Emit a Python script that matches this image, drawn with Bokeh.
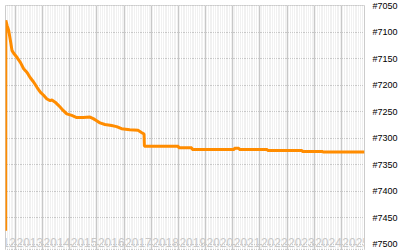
import pandas as pd
from bokeh.plotting import figure
from bokeh.models import Range1d, FixedTicker, Grid, ColumnDataSource
from bokeh.embed import file_html
from bokeh.resources import INLINE
from bokeh.core.properties import value

# ---- data ----
dates = ["2012-08-22", "2012-08-24", "2012-09-11", "2012-10-02", "2012-10-25", "2012-11-16",
         "2012-12-08", "2013-01-23", "2013-03-08", "2013-04-21", "2013-06-06", "2013-07-19",
         "2013-09-02", "2013-10-17", "2013-12-01", "2014-01-14", "2014-02-28", "2014-04-13",
         "2014-05-06", "2014-06-19", "2014-08-02", "2014-09-17", "2014-11-22", "2015-01-28",
         "2015-04-05", "2015-07-02", "2015-09-30", "2015-11-13", "2015-12-29", "2016-02-11",
         "2016-04-18", "2016-07-17", "2016-09-22", "2016-11-28", "2017-03-18", "2017-07-07",
         "2017-08-22", "2017-09-26", "2017-10-01", "2019-01-01", "2019-01-05", "2019-06-30",
         "2019-07-06", "2021-01-20", "2021-01-25", "2021-03-26", "2021-03-30", "2022-04-10",
         "2022-04-15", "2023-07-22", "2023-07-27", "2024-04-25", "2024-04-30", "2025-11-08"]
ranks = [7474, 7078, 7088, 7097, 7116, 7135, 7140, 7148, 7157, 7169, 7176, 7186,
         7194, 7204, 7213, 7219, 7226, 7229, 7228, 7232, 7238, 7245, 7254, 7257,
         7261, 7261, 7260, 7263, 7267, 7271, 7274, 7276, 7278, 7282, 7284, 7285,
         7289, 7292, 7315, 7315, 7318, 7318, 7321, 7321, 7319, 7319, 7321, 7321,
         7323, 7323, 7325, 7325, 7326, 7326]
rank_ticks = [7050, 7100, 7150, 7200, 7250, 7300, 7350, 7400, 7450, 7500]
rank_labels = ["#7050", "#7100", "#7150", "#7200", "#7250", "#7300", "#7350", "#7400", "#7450", "#7500"]
years = [2012, 2013, 2014, 2015, 2016, 2017, 2018, 2019, 2020, 2021, 2022, 2023, 2024, 2025]
year_labels = [str(y) for y in years]


def ms(ts):
    return pd.Timestamp(ts).timestamp() * 1000.0


x_start = ms("2012-08-20")
x_end = ms("2025-11-08")

p = figure(width=400, height=250, x_axis_type="datetime", x_axis_location=None,
           y_axis_location="right", output_backend="svg", toolbar_location=None,
           x_range=Range1d(x_start, x_end), y_range=Range1d(7511.3, 7050),
           min_border_left=5, min_border_top=5, min_border_bottom=0, min_border_right=34,
           background_fill_color="#f1f1f1", border_fill_color="white",
           outline_line_color="#cccccc")

# monthly minor grid (white)
months = [d.timestamp() * 1000.0 for d in pd.date_range("2012-08-01", "2025-12-01", freq="MS")]
p.add_layout(Grid(dimension=0, ticker=FixedTicker(ticks=months),
                  grid_line_color="white", grid_line_width=1))

# year grid
year_ms = [ms(f"{y}-01-01") for y in years] + [ms("2026-01-01")]
p.add_layout(Grid(dimension=0, ticker=FixedTicker(ticks=year_ms),
                  grid_line_color="#c8c8c8", grid_line_width=1))

# y axis
p.yaxis.ticker = FixedTicker(ticks=rank_ticks)
p.yaxis.major_label_overrides = {t: l for t, l in zip(rank_ticks, rank_labels)}
p.yaxis.axis_line_color = None
p.yaxis.major_tick_line_color = None
p.yaxis.minor_tick_line_color = None
p.yaxis.major_label_standoff = 2
p.yaxis.major_label_text_font = "Liberation Sans"
p.yaxis.major_label_text_font_size = "9px"
p.yaxis.major_label_text_color = "black"
p.ygrid.grid_line_color = "#c8c8c8"
p.ygrid.ticker = FixedTicker(ticks=rank_ticks)

# data line
src = ColumnDataSource(dict(x=[ms(d) for d in dates], y=ranks))
p.line("x", "y", source=src, line_color="#ff8c00", line_width=3)

# year labels inside the frame
lab = ColumnDataSource(dict(x=[ms(f"{y}-01-01") for y in years],
                            y=[7496] * len(years), t=year_labels))
p.text("x", "y", text="t", source=lab, text_align="left", text_baseline="alphabetic",
       x_offset=1, text_color="#c8c8c8", text_font=value("Liberation Sans"),
       text_font_size="12px")

open("out.html", "w").write(file_html(p, INLINE))
